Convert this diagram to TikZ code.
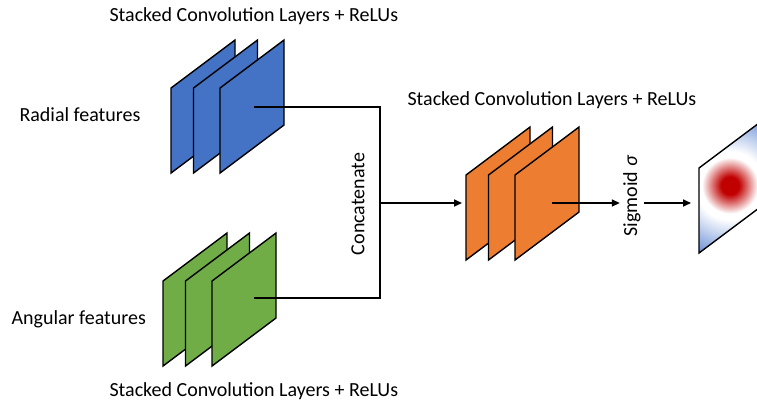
\documentclass[tikz,border=0pt]{standalone}
\usepackage{fontspec}
\setmainfont{Carlito}
\usetikzlibrary{arrows.meta}

\definecolor{radialblue}{HTML}{4472C4}
\definecolor{angulargreen}{HTML}{70AD47}
\definecolor{mergeorange}{HTML}{ED7D31}
\definecolor{spotred}{HTML}{C00000}
\definecolor{mapblue}{HTML}{6A8FD6}

\newcommand{\panelwidth}{64}
\newcommand{\panelheight}{85}
\newcommand{\panelrise}{48}
\newcommand{\stackgapa}{22.5}
\newcommand{\stackgapb}{49}
\newcommand{\labelsize}{\fontsize{20}{24}\selectfont}

% one slanted feature map, top left corner at (#1,#2)
\newcommand{\featmap}[3]{%
  \draw[panel, fill=#3] (#1,#2) -- ++(\panelwidth,-\panelrise) -- ++(0,\panelheight)
    -- ++(-\panelwidth,\panelrise) -- cycle;}
% three maps behind each other
\newcommand{\convstack}[3]{%
  \featmap{#1}{#2}{#3}%
  \featmap{#1+\stackgapa}{#2}{#3}%
  \featmap{#1+\stackgapb}{#2}{#3}}

% red spot fading to white, then blue towards the corners
\pgfdeclareradialshading{heatspot}{\pgfpoint{0bp}{0bp}}{%
  color(0bp)=(spotred); color(3bp)=(spotred); color(9.5bp)=(white);
  color(11.5bp)=(white); color(25bp)=(mapblue); color(50bp)=(mapblue)}

\begin{document}
\begin{tikzpicture}[x=1pt,y=-1pt,font=\labelsize]
\tikzstyle{panel}=[draw=black,line width=1.4pt,line join=miter]
\tikzstyle{wire}=[line width=1.6pt]
\tikzstyle{flow}=[wire,-{Triangle[length=8pt,width=7pt]}]
\useasboundingbox (0,0) rectangle (757,402);

%% stacks of feature maps
\convstack{171}{88}{radialblue}
\convstack{163}{281}{angulargreen}
\convstack{466}{175}{mergeorange}

%% output map with the heat spot
\begin{scope}
  \clip (699,168) -- ++(\panelwidth,-\panelrise) -- ++(0,\panelheight)
    -- ++(-\panelwidth,\panelrise) -- cycle;
  \fill[mapblue] (690,100) rectangle (770,260);
  \shade[shading=heatspot] (730,185.5) circle (74);
\end{scope}
\draw[panel] (699,168) -- ++(\panelwidth,-\panelrise) -- ++(0,\panelheight)
  -- ++(-\panelwidth,\panelrise) -- cycle;

%% labels
\node (toplabel) [anchor=base west] at (106,21) {Stacked Convolution Layers + ReLUs};
\node (bottomlabel) [anchor=base west] at (106,396) {Stacked Convolution Layers + ReLUs};
\node (mergelabel) [anchor=base west] at (404,105) {Stacked Convolution Layers + ReLUs};
\node (radial) [anchor=base west] at (16,121) {Radial features};
\node (angular) [anchor=base west] at (8,324) {Angular features};
\node (concat) [rotate=90] at (358,204) {Concatenate};
\node (sigmoid) [rotate=90] at (632,196) {Sigmoid \textit{σ}};

%% connectors
\coordinate (radialout) at (254,107);
\coordinate (angularout) at (254,298);
\coordinate (jointop) at (380,107);
\coordinate (joinbot) at (380,298);
\coordinate (joinmid) at (380,203);
\coordinate (mergein) at (462,203);
\coordinate (mergeout) at (552,203);
\coordinate (mapin) at (691,203);
\draw[wire] (radialout) -- (jointop) -- (joinbot) -- (angularout);
\draw[flow] (joinmid) -- (mergein);
\draw[flow] (mergeout) -- (mergeout -| sigmoid.north);
\draw[flow] (mapin -| sigmoid.south) -- (mapin);

\end{tikzpicture}
\end{document}
